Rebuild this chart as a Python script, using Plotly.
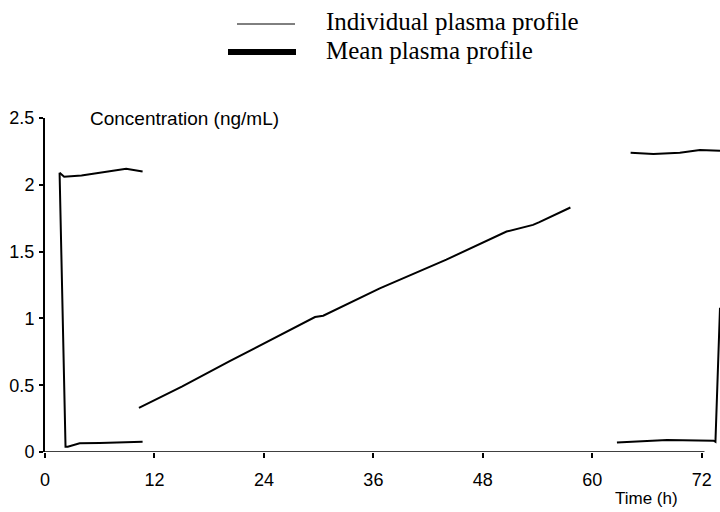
import plotly.graph_objects as go

# ---- data ----
left_top_x = [1.6, 2.1, 4.0, 6.0, 8.9, 10.7]
left_top_y = [2.09, 2.06, 2.07, 2.09, 2.12, 2.10]

left_drop_x = [1.6, 1.96, 2.25, 2.5, 3.8, 6.0, 8.5, 10.7]
left_drop_y = [2.09, 1.04, 0.04, 0.04, 0.065, 0.068, 0.072, 0.077]

rise_x = [10.3, 15.0, 20.25, 25.0, 29.6, 30.5, 36.7, 44.0, 50.6, 53.5, 54.2, 57.6]
rise_y = [0.33, 0.49, 0.68, 0.85, 1.01, 1.02, 1.225, 1.44, 1.65, 1.70, 1.72, 1.83]

right_top_x = [64.2, 66.7, 69.6, 71.8, 74.0]
right_top_y = [2.24, 2.23, 2.24, 2.26, 2.255]

right_bottom_x = [62.7, 68.2, 73.3, 73.5, 74.0]
right_bottom_y = [0.072, 0.09, 0.085, 0.077, 1.08]

x_ticks = [0, 12, 24, 36, 48, 60, 72]
y_ticks = [0, 0.5, 1, 1.5, 2, 2.5]
y_ticktext = ["0", "0.5", "1", "1.5", "2", "2.5"]

legend_labels = ["Individual plasma profile", "Mean plasma profile"]

SANS = "Liberation Sans, Arial, sans-serif"
SERIF = "Liberation Serif, Times New Roman, serif"

L, R, T, B = 45, 0, 118, 60
PW, PH = 720 - L - R, 512 - T - B

fig = go.Figure()
line_style = dict(color="black", width=2)
for xs, ys in [(left_top_x, left_top_y), (left_drop_x, left_drop_y),
               (rise_x, rise_y), (right_top_x, right_top_y),
               (right_bottom_x, right_bottom_y)]:
    fig.add_trace(go.Scatter(x=xs, y=ys, mode="lines", line=line_style,
                             showlegend=False, hoverinfo="skip"))

fig.update_layout(
    width=720, height=512,
    margin=dict(l=L, r=R, t=T, b=B),
    paper_bgcolor="white", plot_bgcolor="white",
    showlegend=False,
    xaxis=dict(range=[0, 74.0], tickvals=x_ticks, ticks="outside", ticklen=5,
               tickcolor="black", tickwidth=1.5, showgrid=False, zeroline=False,
               showline=False, automargin=False,
               tickfont=dict(family=SANS, size=18, color="black"),
               ticklabelstandoff=6),
    yaxis=dict(range=[0, 2.5], tickvals=y_ticks, ticktext=y_ticktext,
               ticks="outside", ticklen=4, tickcolor="black", tickwidth=1.5,
               showgrid=False, zeroline=False, showline=True, linecolor="black",
               linewidth=2, automargin=False,
               tickfont=dict(family=SANS, size=18, color="black"),
               ticklabelstandoff=1),
)

# x axis line (ends at the last tick, as in the original)
fig.add_shape(type="line", xref="x", yref="y", x0=-0.6, x1=72.3, y0=0, y1=0,
              line=dict(color="black", width=1.5))


def px_x(p):
    return (p - L) / PW


def px_y(p):
    return (512 - B - p) / PH


# axis titles
fig.add_annotation(text="Concentration (ng/mL)", xref="paper", yref="paper",
                   x=px_x(88), y=px_y(118), xanchor="left", yanchor="middle",
                   showarrow=False, font=dict(family=SANS, size=19, color="black"))
fig.add_annotation(text="Time (h)", xref="paper", yref="paper",
                   x=px_x(646), y=px_y(498), xanchor="center",
                   yanchor="middle", showarrow=False,
                   font=dict(family=SANS, size=17, color="black"))

# legend drawn at the top
fig.add_shape(type="line", xref="paper", yref="paper", x0=px_x(237), x1=px_x(295),
              y0=px_y(24), y1=px_y(24), line=dict(color="black", width=1))
fig.add_shape(type="line", xref="paper", yref="paper", x0=px_x(228), x1=px_x(296),
              y0=px_y(52), y1=px_y(52), line=dict(color="black", width=6))
fig.add_annotation(text=legend_labels[0], xref="paper", yref="paper",
                   x=px_x(324), y=px_y(22), xanchor="left", yanchor="middle",
                   showarrow=False, font=dict(family=SERIF, size=25, color="black"))
fig.add_annotation(text=legend_labels[1], xref="paper", yref="paper",
                   x=px_x(324), y=px_y(51), xanchor="left", yanchor="middle",
                   showarrow=False, font=dict(family=SERIF, size=25, color="black"))

fig.write_html("out.html",
               config={"displayModeBar": False},
               post_script="document.body.style.margin='0px';document.body.style.overflow='hidden';")
